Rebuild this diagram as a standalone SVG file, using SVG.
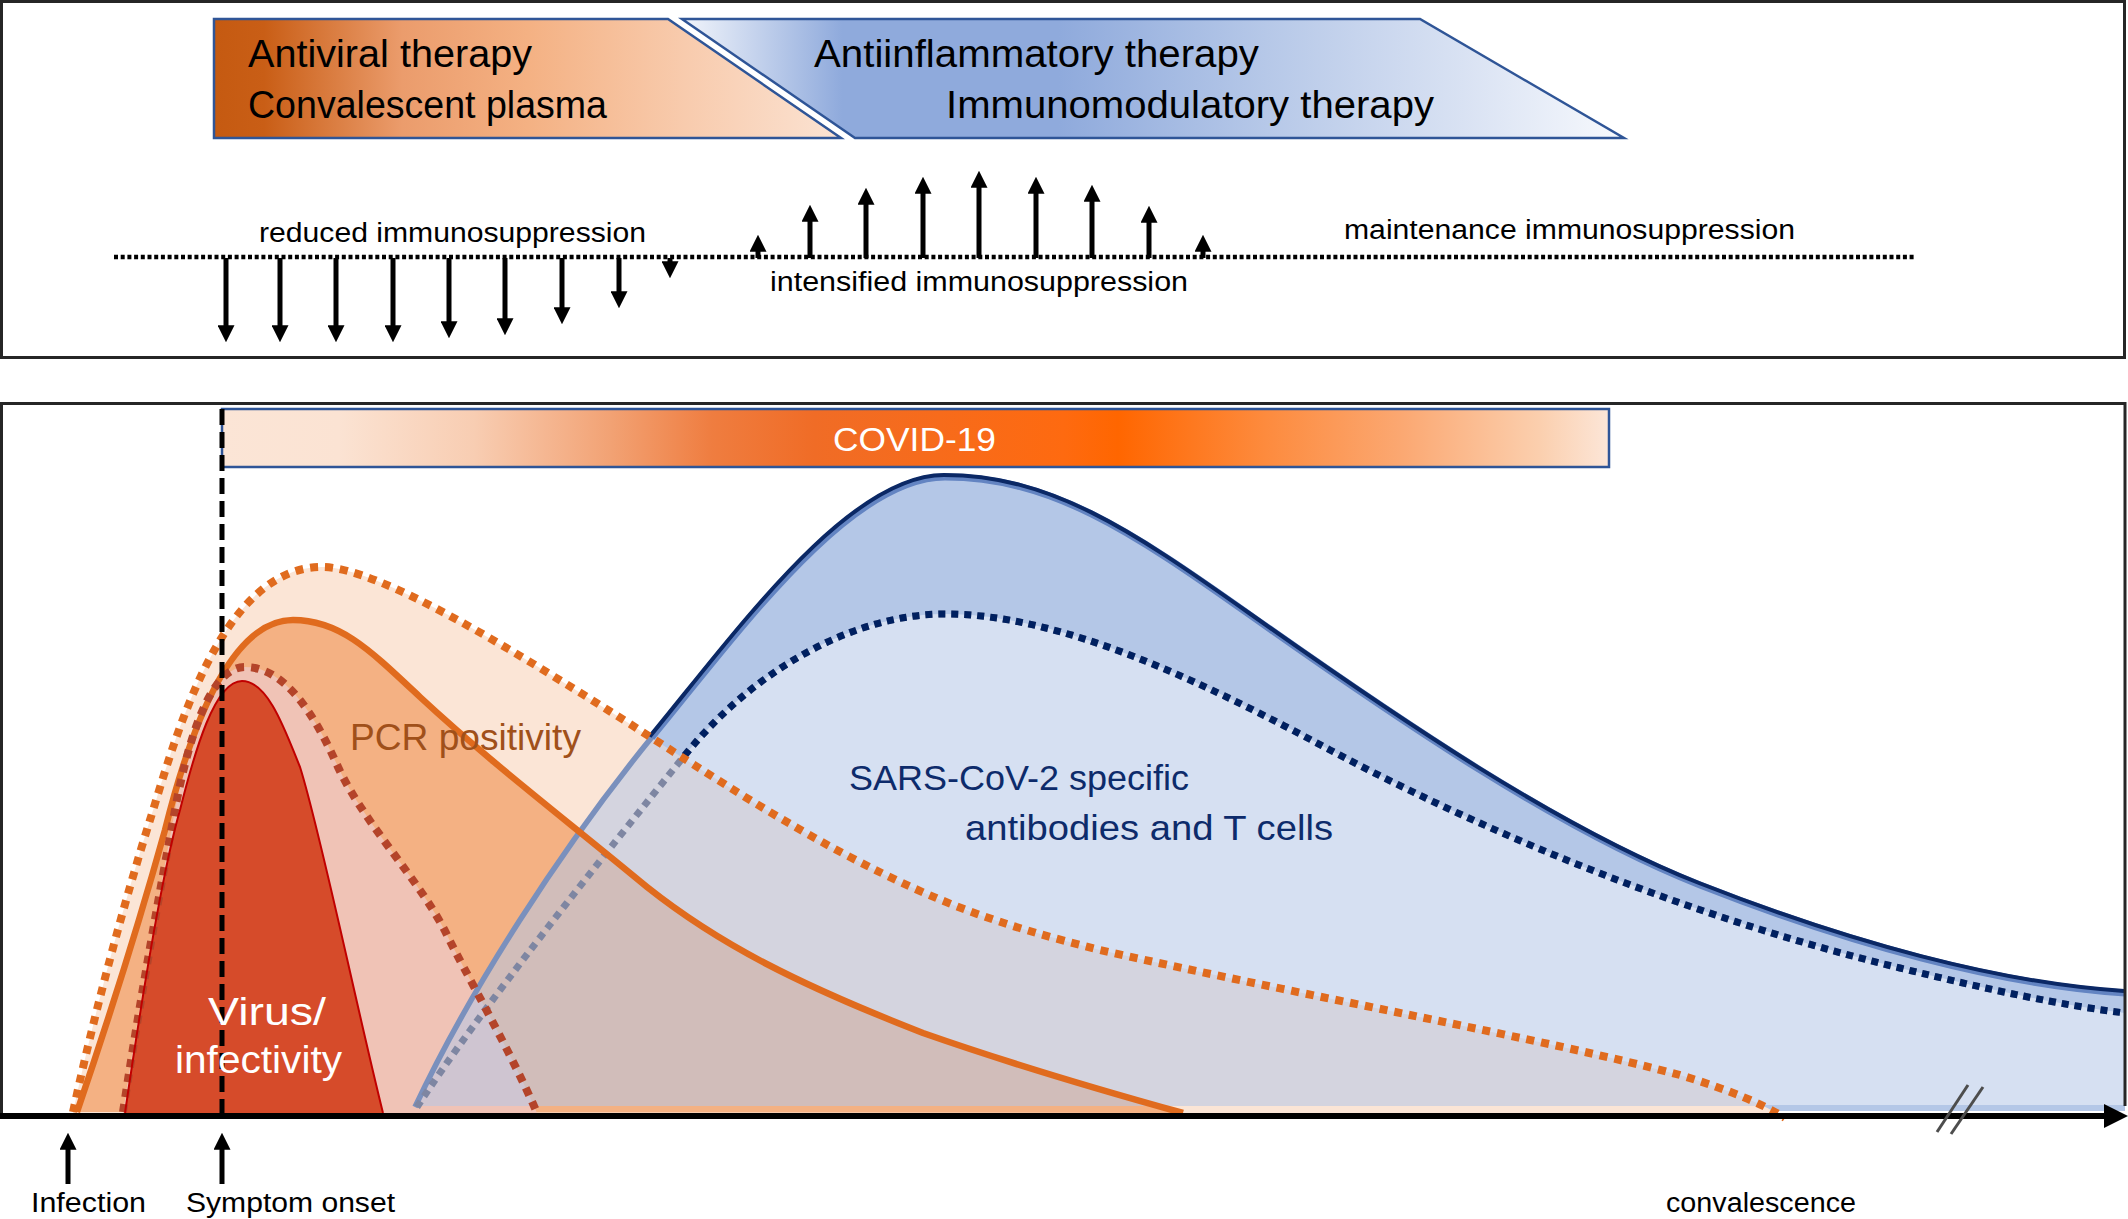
<svg xmlns="http://www.w3.org/2000/svg" width="2128" height="1219" viewBox="0 0 2128 1219">
<defs>
<style>
.t{font-family:"Liberation Sans",Arial,sans-serif;}
.big{font-size:38px;fill:#000}
.sm{font-size:27px;fill:#000}
.ar{stroke:#000;stroke-width:5;fill:none;marker-end:url(#ah)}
.frame{fill:none;stroke:#262626;stroke-width:3}
.odot{fill:none;stroke:#e06b1e;stroke-width:8;stroke-dasharray:8 7}
</style>
<marker id="ah" viewBox="0 0 10 10" refX="1" refY="5" markerWidth="17" markerHeight="17" markerUnits="userSpaceOnUse" orient="auto"><path d="M0,0L10,5L0,10Z" fill="#000"/></marker>
<linearGradient id="gOr" gradientUnits="userSpaceOnUse" x1="214" y1="0" x2="841" y2="0">
<stop offset="0" stop-color="#c55a11"/><stop offset="0.08" stop-color="#c95e16"/><stop offset="0.3" stop-color="#eb9c6c"/><stop offset="0.5" stop-color="#f4b183"/><stop offset="0.75" stop-color="#f8cbad"/><stop offset="1" stop-color="#fbe3d3"/>
</linearGradient>
<linearGradient id="gBl" gradientUnits="userSpaceOnUse" x1="682" y1="0" x2="1624" y2="0">
<stop offset="0" stop-color="#f2f5fb"/><stop offset="0.17" stop-color="#8faadc"/><stop offset="0.4" stop-color="#8faadc"/><stop offset="0.62" stop-color="#b6c8e8"/><stop offset="0.83" stop-color="#d9e2f3"/><stop offset="1" stop-color="#f7f9fd"/>
</linearGradient>
<linearGradient id="gCov" gradientUnits="userSpaceOnUse" x1="222" y1="0" x2="1609" y2="0">
<stop offset="0" stop-color="#fbe5d6"/><stop offset="0.084" stop-color="#fbe3d3"/><stop offset="0.182" stop-color="#f8cdb2"/><stop offset="0.28" stop-color="#f2a274"/><stop offset="0.353" stop-color="#ef7d40"/><stop offset="0.427" stop-color="#f06c26"/><stop offset="0.607" stop-color="#fe6a10"/><stop offset="0.646" stop-color="#ff6600"/><stop offset="0.753" stop-color="#fd8b3e"/><stop offset="0.851" stop-color="#fba872"/><stop offset="0.95" stop-color="#fbcfae"/><stop offset="1" stop-color="#fce6d8"/>
</linearGradient>
<mask id="mOut" maskUnits="userSpaceOnUse" x="0" y="0" width="2128" height="1219">
<rect x="0" y="0" width="2128" height="1219" fill="#fff"/>
<path fill="#000" d="M73,1112 C95,1010 125,900 150,820 C175,740 220,567 322,567 C380,567 520,655 611,712 C680,755 760,810 850,857 C940,904 1000,925 1100,950 C1300,995 1550,1040 1680,1075 C1730,1090 1765,1105 1785,1118 L73,1113 Z"/>
</mask>
</defs>
<rect x="0" y="0" width="2128" height="1219" fill="#fff"/>

<g id="top-panel">
<rect class="frame" x="1.5" y="1.5" width="2123" height="356"/>
<g id="therapy-antiviral">
<polygon points="214,19 668,19 841,138 214,138" fill="url(#gOr)" stroke="#2f5597" stroke-width="2.5"/>
<text class="t big" x="248" y="67" textLength="284" lengthAdjust="spacingAndGlyphs">Antiviral therapy</text>
<text class="t big" x="248" y="118" textLength="359" lengthAdjust="spacingAndGlyphs">Convalescent plasma</text>
</g>
<g id="therapy-antiinflammatory">
<polygon points="682,19 1420,19 1624,138 855,138" fill="url(#gBl)" stroke="#2f5597" stroke-width="2.5"/>
<text class="t big" x="814" y="67" textLength="445" lengthAdjust="spacingAndGlyphs">Antiinflammatory therapy</text>
<text class="t big" x="946" y="118" textLength="488" lengthAdjust="spacingAndGlyphs">Immunomodulatory therapy</text>
</g>
<g id="immunosuppression">
<line x1="114" y1="257" x2="1915" y2="257" stroke="#000" stroke-width="4.5" stroke-dasharray="4 2.7"/>
<text class="t sm" x="259" y="242" textLength="387" lengthAdjust="spacingAndGlyphs">reduced immunosuppression</text>
<text class="t sm" x="770" y="291" textLength="418" lengthAdjust="spacingAndGlyphs">intensified immunosuppression</text>
<text class="t sm" x="1344" y="239" textLength="451" lengthAdjust="spacingAndGlyphs">maintenance immunosuppression</text>
<g id="down-arrows">
<line class="ar" x1="226" y1="258" x2="226" y2="327"/>
<line class="ar" x1="280" y1="258" x2="280" y2="327"/>
<line class="ar" x1="336" y1="258" x2="336" y2="327"/>
<line class="ar" x1="393" y1="258" x2="393" y2="327"/>
<line class="ar" x1="449" y1="258" x2="449" y2="323"/>
<line class="ar" x1="505" y1="258" x2="505" y2="320"/>
<line class="ar" x1="562" y1="258" x2="562" y2="309"/>
<line class="ar" x1="619" y1="258" x2="619" y2="293"/>
<line class="ar" x1="670" y1="258" x2="670" y2="263"/>
</g>
<g id="up-arrows">
<line class="ar" x1="758" y1="258" x2="758" y2="250"/>
<line class="ar" x1="810" y1="258" x2="810" y2="220"/>
<line class="ar" x1="866" y1="258" x2="866" y2="203"/>
<line class="ar" x1="923" y1="258" x2="923" y2="192"/>
<line class="ar" x1="979" y1="258" x2="979" y2="186"/>
<line class="ar" x1="1036" y1="258" x2="1036" y2="192"/>
<line class="ar" x1="1092" y1="258" x2="1092" y2="200"/>
<line class="ar" x1="1149" y1="258" x2="1149" y2="221"/>
<line class="ar" x1="1203" y1="258" x2="1203" y2="250"/>
</g>
</g>
</g>

<g id="bottom-panel">
<g id="fills">
<path id="blueBase" fill="#b4c7e7" d="M415,1111 C470,990 560,850 652,737 C740,630 850,477 945,477 C1050,477 1130,530 1250,615 C1400,721 1560,830 1700,885 C1850,944 2000,985 2125,993 L2125,1111 Z"/>
<path fill="#fff" d="M417,1105 C480,1010 600,860 685,755 C760,663 860,614 945,614 C1060,614 1200,680 1330,750 C1500,840 1700,920 1900,968 C1990,990 2060,1005 2125,1013 L2125,1105 Z"/>
<path fill="#fbe5d6" d="M73,1112 C95,1010 125,900 150,820 C175,740 220,567 322,567 C380,567 520,655 611,712 C680,755 760,810 850,857 C940,904 1000,925 1100,950 C1300,995 1550,1040 1680,1075 C1730,1090 1765,1105 1785,1118 L73,1113 Z"/>
<path fill="#f4b183" d="M77,1112 C105,1030 140,920 165,830 C190,730 230,620 293,620 C340,620 370,650 420,697 C490,762 560,815 647,887 C720,945 800,985 923,1033 C1000,1060 1100,1090 1183,1113 Z"/>
<path fill="#f0c3b6" d="M123,1113 C140,1000 160,890 175,810 C188,740 210,667 245,667 C285,667 315,715 338,767 C365,825 420,880 447,935 C465,972 510,1050 537,1113 Z"/>
<path fill="#d64b2a" d="M125,1113 C140,1010 160,880 180,810 C195,750 215,681 242,681 C268,681 285,730 300,767 C320,830 355,1000 383,1113 Z"/>
<path fill="#b4c7e7" fill-opacity="0.55" d="M415,1106 C470,990 560,850 652,737 C740,630 850,477 945,477 C1050,477 1130,530 1250,615 C1400,721 1560,830 1700,885 C1850,944 2000,985 2125,993 L2125,1106 Z"/>
</g>
<g id="blue-lines">
<path fill="none" stroke="#7a90bd" stroke-width="5.5" d="M415,1107 C470,990 560,850 652,737 C740,630 850,477 945,477 C1050,477 1130,530 1250,615 C1400,721 1560,830 1700,885 C1850,944 2000,985 2125,993"/>
<path fill="none" stroke="#7e86a2" stroke-width="7" stroke-dasharray="7 6" d="M417,1107 C480,1010 600,860 685,755 C760,663 860,614 945,614 C1060,614 1200,680 1330,750 C1500,840 1700,920 1900,968 C1990,990 2060,1005 2125,1013"/>
<g mask="url(#mOut)">
<path fill="none" stroke="#6384c2" stroke-width="7" d="M415,1107 C470,990 560,850 652,737 C740,630 850,477 945,477 C1050,477 1130,530 1250,615 C1400,721 1560,830 1700,885 C1850,944 2000,985 2125,993"/>
<path fill="none" stroke="#0b2865" stroke-width="4" transform="translate(-1,-2)" d="M415,1107 C470,990 560,850 652,737 C740,630 850,477 945,477 C1050,477 1130,530 1250,615 C1400,721 1560,830 1700,885 C1850,944 2000,985 2125,993"/>
<path fill="none" stroke="#002060" stroke-width="7" stroke-dasharray="7 6" d="M417,1107 C480,1010 600,860 685,755 C760,663 860,614 945,614 C1060,614 1200,680 1330,750 C1500,840 1700,920 1900,968 C1990,990 2060,1005 2125,1013"/>
</g>
</g>
<g id="orange-lines">
<path class="odot" d="M73,1112 C95,1010 125,900 150,820 C175,740 220,567 322,567 C380,567 520,655 611,712 C680,755 760,810 850,857 C940,904 1000,925 1100,950 C1300,995 1550,1040 1680,1075 C1730,1090 1765,1105 1785,1118"/>
<path fill="none" stroke="#e06b1e" stroke-width="6.5" d="M77,1112 C105,1030 140,920 165,830 C190,730 230,620 293,620 C340,620 370,650 420,697 C490,762 560,815 647,887 C720,945 800,985 923,1033 C1000,1060 1100,1090 1183,1113"/>
<path fill="none" stroke="#b4442a" stroke-width="8" stroke-dasharray="8 7" d="M123,1112 C140,1000 160,890 175,810 C188,740 210,667 245,667 C285,667 315,715 338,767 C365,825 420,880 447,935 C465,972 510,1050 537,1113"/>
<path fill="none" stroke="#c00000" stroke-width="2" d="M125,1113 C140,1010 160,880 180,810 C195,750 215,681 242,681 C268,681 285,730 300,767 C320,830 355,1000 383,1113"/>
</g>
<g id="covid-bar">
<rect x="222" y="409" width="1387" height="58" fill="url(#gCov)" stroke="#2f5597" stroke-width="2.5"/>
<text class="t" x="833" y="451" font-size="34" fill="#fff" textLength="163" lengthAdjust="spacingAndGlyphs">COVID-19</text>
</g>
<line id="onset-line" x1="222" y1="409" x2="222" y2="1113" stroke="#000" stroke-width="5" stroke-dasharray="16 7"/>
<g id="labels">
<text class="t" x="350" y="750" font-size="36" fill="#a0501a" textLength="231" lengthAdjust="spacingAndGlyphs">PCR positivity</text>
<text class="t" x="849" y="790" font-size="35" fill="#0d2b6b" textLength="340" lengthAdjust="spacingAndGlyphs">SARS-CoV-2 specific</text>
<text class="t" x="965" y="840" font-size="35" fill="#0d2b6b" textLength="368" lengthAdjust="spacingAndGlyphs">antibodies and T cells</text>
<text class="t" x="208" y="1025" font-size="38" fill="#fff" textLength="118" lengthAdjust="spacingAndGlyphs">Virus/</text>
<text class="t" x="175" y="1073" font-size="38" fill="#fff" textLength="167" lengthAdjust="spacingAndGlyphs">infectivity</text>
</g>
<path class="frame" d="M1.5,1116 V403.5 H2125 V1106"/>
<g id="axis">
<line x1="0" y1="1116" x2="2106" y2="1116" stroke="#000" stroke-width="6"/>
<polygon points="2104,1104 2128,1116 2104,1128" fill="#000"/>
<line x1="1937" y1="1132" x2="1968" y2="1085" stroke="#4d4d4d" stroke-width="3"/>
<line x1="1951" y1="1134" x2="1983" y2="1087" stroke="#4d4d4d" stroke-width="3"/>
</g>
<g id="time-points">
<line class="ar" x1="68" y1="1184" x2="68" y2="1148"/>
<line class="ar" x1="222" y1="1184" x2="222" y2="1148"/>
<text class="t sm" x="31" y="1212" textLength="115" lengthAdjust="spacingAndGlyphs">Infection</text>
<text class="t sm" x="186" y="1212" textLength="209" lengthAdjust="spacingAndGlyphs">Symptom onset</text>
<text class="t sm" x="1666" y="1212" textLength="190" lengthAdjust="spacingAndGlyphs">convalescence</text>
</g>
</g>
</svg>
